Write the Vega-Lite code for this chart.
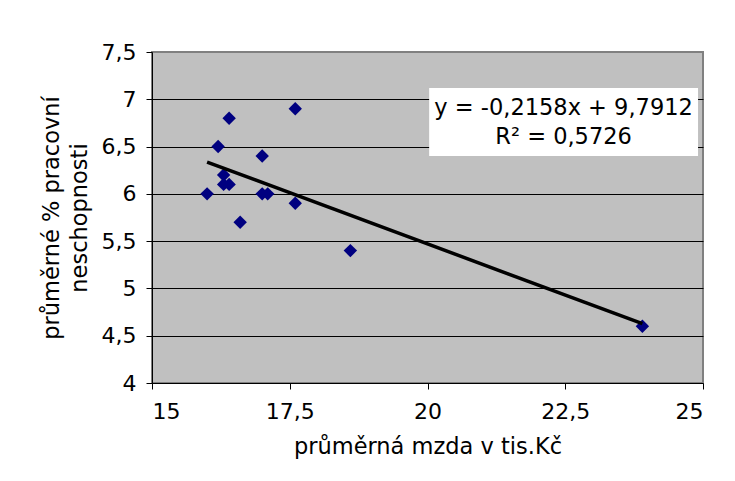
{
  "$schema": "https://vega.github.io/schema/vega-lite/v6.json",
  "width": 551,
  "height": 331,
  "autosize": {"type": "none"},
  "padding": {"left": 152, "top": 52, "right": 32, "bottom": 98},
  "background": "white",
  "config": {
    "font": "DejaVu Sans",
    "view": {"fill": "#C0C0C0", "stroke": "#808080", "strokeWidth": 2},
    "axis": {
      "labelFont": "DejaVu Sans",
      "titleFont": "DejaVu Sans",
      "labelFontSize": 22,
      "titleFontSize": 22.5,
      "titleFontWeight": "normal",
      "labelColor": "black",
      "titleColor": "black",
      "domainColor": "black",
      "tickColor": "black",
      "tickSize": 6,
      "domainWidth": 1,
      "tickWidth": 1
    }
  },
  "datasets": {
    "pts": [
      {"mzda": 16.4, "nesch": 6.8},
      {"mzda": 17.6, "nesch": 6.9},
      {"mzda": 16.2, "nesch": 6.5},
      {"mzda": 17.0, "nesch": 6.4},
      {"mzda": 16.3, "nesch": 6.2},
      {"mzda": 16.3, "nesch": 6.1},
      {"mzda": 16.4, "nesch": 6.1},
      {"mzda": 16.0, "nesch": 6.0},
      {"mzda": 17.0, "nesch": 6.0},
      {"mzda": 17.1, "nesch": 6.0},
      {"mzda": 17.6, "nesch": 5.9},
      {"mzda": 16.6, "nesch": 5.7},
      {"mzda": 18.6, "nesch": 5.4},
      {"mzda": 23.9, "nesch": 4.6}
    ],
    "box": [
      {"x1": 20.03, "x2": 24.91, "y1": 6.4, "y2": 7.12}
    ],
    "eq": [
      {"x": 22.47, "y": 6.91, "t": "y = -0,2158x + 9,7912"},
      {"x": 22.47, "y": 6.6, "t": "R² = 0,5726"}
    ]
  },
  "layer": [
    {
      "data": {"name": "pts"},
      "mark": {"type": "point", "shape": "diamond", "filled": true, "color": "#000080", "size": 180, "opacity": 1},
      "encoding": {
        "x": {
          "field": "mzda", "type": "quantitative",
          "scale": {"domain": [15, 25], "nice": false, "zero": false},
          "axis": {
            "values": [15, 17.5, 20, 22.5, 25],
            "format": ".3~g",
            "labelExpr": "replace(datum.label, '.', ',')",
            "grid": false,
            "title": "průměrná mzda v tis.Kč",
            "labelPadding": 12,
            "titlePadding": 13
          }
        },
        "y": {
          "field": "nesch", "type": "quantitative",
          "scale": {"domain": [4, 7.5], "nice": false, "zero": false},
          "axis": {
            "values": [4, 4.5, 5, 5.5, 6, 6.5, 7, 7.5],
            "format": ".2~g",
            "labelExpr": "replace(datum.label, '.', ',')",
            "grid": true,
            "gridColor": {"condition": {"test": "datum.value == 7.5 || datum.value == 4", "value": "#808080"}, "value": "black"},
            "gridWidth": 1,
            "title": ["průměrné % pracovní", "neschopnosti"],
            "titleLineHeight": 28,
            "labelPadding": 10,
            "titlePadding": 10
          }
        }
      }
    },
    {
      "data": {"name": "pts"},
      "transform": [{"regression": "nesch", "on": "mzda"}],
      "mark": {"type": "line", "color": "black", "strokeWidth": 3.5},
      "encoding": {
        "x": {"field": "mzda", "type": "quantitative"},
        "y": {"field": "nesch", "type": "quantitative"}
      }
    },
    {
      "data": {"name": "box"},
      "mark": {"type": "rect", "fill": "white", "stroke": null},
      "encoding": {
        "x": {"field": "x1", "type": "quantitative"},
        "x2": {"field": "x2"},
        "y": {"field": "y1", "type": "quantitative"},
        "y2": {"field": "y2"}
      }
    },
    {
      "data": {"name": "eq"},
      "mark": {"type": "text", "font": "DejaVu Sans", "fontSize": 22.5, "color": "black", "align": "center", "baseline": "middle"},
      "encoding": {
        "x": {"field": "x", "type": "quantitative"},
        "y": {"field": "y", "type": "quantitative"},
        "text": {"field": "t"}
      }
    }
  ]
}
